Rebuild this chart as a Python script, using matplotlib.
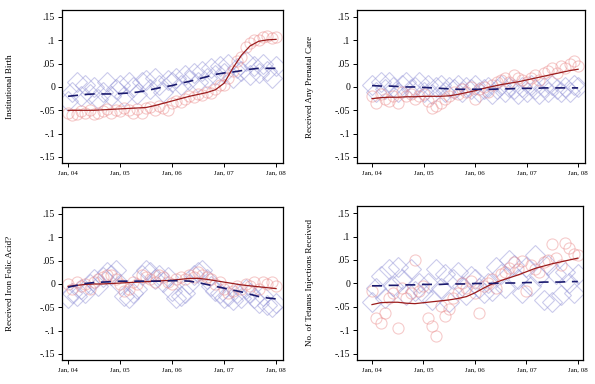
import numpy as np
import matplotlib
matplotlib.use("Agg")
import matplotlib.pyplot as plt

# monthly points, Jan 04 (0) .. Jan 08 (48)
months = np.arange(49)
line_months = np.arange(0, 49, 2)

tick_pos = [0, 12, 24, 36, 48]
tick_labels = ["Jan, 04", "Jan, 05", "Jan, 06", "Jan, 07", "Jan, 08"]
ytick_pos = [0.15, 0.1, 0.05, 0, -0.05, -0.1, -0.15]
ytick_labels = [".15", ".1", ".05", "0", "-.05", "-.1", "-.15"]

titles = ["Institutional Birth", "Received Any Prenatal Care",
          "Received Iron Folic Acid?", "No. of Tetanus Injections Received"]

# Institutional Birth
birth_circ = [-0.055, -0.06, -0.058, -0.052, -0.055, -0.05, -0.058, -0.055, -0.052, -0.048, -0.055, -0.05,
              -0.052, -0.045, -0.05, -0.055, -0.048, -0.055, -0.045, -0.042, -0.05, -0.04, -0.045, -0.05,
              -0.035, -0.03, -0.032, -0.025, -0.02, -0.022, -0.015, -0.018, -0.01, -0.012, -0.005, 0.005,
              0.005, 0.02, 0.035, 0.055, 0.065, 0.085, 0.095, 0.1, 0.1, 0.108, 0.11, 0.105, 0.108]
birth_diam = [-0.03, -0.01, 0.01, -0.02, 0.005, -0.015, 0.0, -0.025, -0.01, 0.01, -0.02, -0.005,
              0.005, -0.02, 0.01, 0.0, -0.015, 0.01, 0.015, -0.005, 0.02, 0.005, -0.01, 0.015,
              0.01, 0.02, 0.005, 0.025, 0.015, 0.03, 0.01, 0.035, 0.02, 0.04, 0.025, 0.045,
              0.03, 0.05, 0.02, 0.04, 0.035, 0.055, 0.025, 0.045, 0.03, 0.05, 0.035, 0.02, 0.045]
birth_red = [-0.050, -0.050, -0.050, -0.050, -0.049, -0.048, -0.047, -0.046, -0.045, -0.044, -0.040, -0.035,
             -0.030, -0.025, -0.020, -0.016, -0.012, -0.006, 0.008, 0.040, 0.068, 0.088, 0.098, 0.101, 0.102]
birth_blue = [-0.020, -0.018, -0.016, -0.015, -0.015, -0.015, -0.014, -0.013, -0.011, -0.008, -0.004, 0.0,
              0.003, 0.008, 0.012, 0.017, 0.022, 0.027, 0.030, 0.032, 0.035, 0.038, 0.040, 0.040, 0.040]

# Received Any Prenatal Care
prenatal_circ = [-0.02, -0.035, -0.015, -0.025, -0.03, -0.02, -0.035, -0.01, -0.02, -0.015, -0.025, -0.02,
                 -0.015, -0.03, -0.045, -0.04, -0.035, -0.025, -0.02, -0.01, -0.015, -0.005, -0.01, 0.0,
                 -0.025, -0.005, 0.0, -0.01, 0.005, 0.01, 0.015, 0.02, 0.01, 0.025, 0.02, 0.015,
                 0.01, 0.02, 0.025, 0.015, 0.03, 0.035, 0.04, 0.03, 0.045, 0.04, 0.05, 0.055, 0.045]
prenatal_diam = [0.005, -0.01, 0.01, -0.005, 0.01, 0.0, -0.01, 0.005, 0.01, -0.005, 0.0, 0.01,
                 -0.01, 0.005, -0.015, 0.0, 0.005, -0.01, 0.0, -0.005, 0.005, -0.01, 0.0, -0.005,
                 0.005, -0.01, -0.005, 0.0, -0.015, -0.005, 0.005, -0.01, 0.0, -0.005, -0.015, 0.0,
                 -0.01, 0.005, -0.005, -0.015, 0.0, -0.01, 0.005, -0.005, -0.01, 0.0, -0.01, 0.005, 0.0]
prenatal_red = [-0.025, -0.023, -0.022, -0.022, -0.021, -0.021, -0.020, -0.020, -0.020, -0.019, -0.016, -0.012,
                -0.008, -0.003, 0.001, 0.005, 0.008, 0.011, 0.015, 0.019, 0.023, 0.027, 0.031, 0.035, 0.038]
prenatal_blue = [0.003, 0.002, 0.002, 0.001, 0.0, 0.0, -0.001, -0.002, -0.003, -0.004, -0.005, -0.005,
                 -0.005, -0.005, -0.005, -0.004, -0.004, -0.003, -0.003, -0.003, -0.002, -0.002, -0.002, -0.002, -0.002]

# Received Iron Folic Acid?
iron_circ = [0.0, -0.01, 0.005, -0.005, 0.0, -0.01, 0.005, 0.01, 0.015, 0.02, 0.02, 0.01,
             0.0, -0.015, -0.01, 0.005, 0.0, 0.02, 0.015, 0.01, 0.005, 0.02, 0.015, 0.005,
             0.0, 0.01, 0.015, 0.01, 0.02, 0.015, 0.025, 0.02, 0.015, 0.01, 0.0, 0.005,
             -0.01, -0.02, -0.015, -0.005, -0.01, 0.0, -0.005, 0.005, -0.01, 0.005, 0.0, 0.005, -0.005]
iron_diam = [-0.03, -0.02, -0.025, -0.01, -0.02, 0.0, 0.01, -0.005, 0.015, 0.025, 0.02, 0.03,
             0.0, -0.025, -0.03, -0.02, -0.01, 0.02, 0.03, 0.025, 0.01, 0.02, 0.005, 0.015,
             -0.015, -0.03, -0.025, -0.02, 0.0, 0.02, 0.025, 0.03, 0.01, -0.005, -0.015, -0.02,
             -0.03, -0.025, -0.035, -0.02, -0.03, -0.01, -0.02, -0.03, -0.04, -0.025, -0.045, -0.05, -0.04]
iron_red = [-0.005, -0.003, -0.001, 0.0, 0.0, 0.001, 0.002, 0.003, 0.004, 0.005, 0.006, 0.007,
            0.008, 0.010, 0.012, 0.012, 0.010, 0.007, 0.004, 0.001, -0.002, -0.004, -0.006, -0.008, -0.010]
iron_blue = [-0.007, -0.003, 0.001, 0.003, 0.004, 0.005, 0.006, 0.006, 0.006, 0.006, 0.006, 0.006,
             0.007, 0.007, 0.006, 0.003, -0.001, -0.005, -0.009, -0.013, -0.017, -0.022, -0.027, -0.030, -0.032]

# No. of Tetanus Injections Received
tetanus_circ = [-0.016, -0.074, -0.085, -0.063, -0.03, -0.02, -0.095, -0.01, -0.03, -0.02, 0.05, -0.015,
                -0.005, -0.074, -0.091, -0.111, -0.049, -0.07, -0.054, -0.03, -0.02, 0.0, -0.01, 0.005,
                -0.02, -0.063, -0.005, 0.0, 0.01, -0.01, 0.02, 0.025, 0.034, 0.045, 0.03, 0.048,
                -0.016, 0.04, 0.03, 0.025, 0.045, 0.05, 0.084, 0.055, 0.04, 0.087, 0.076, 0.062, 0.06]
tetanus_diam = [-0.04, -0.01, 0.015, -0.03, 0.03, -0.005, 0.035, 0.01, -0.025, 0.03, -0.015, 0.0,
                -0.02, 0.0, -0.035, 0.03, -0.01, 0.02, -0.04, 0.01, 0.025, -0.005, -0.025, 0.015,
                0.01, -0.01, -0.02, 0.0, -0.015, 0.035, 0.02, -0.01, 0.05, 0.04, 0.01, -0.02,
                0.035, -0.005, 0.06, 0.015, -0.035, 0.04, -0.04, 0.02, -0.025, 0.025, 0.0, -0.02, 0.02]
tetanus_red = [-0.045, -0.041, -0.040, -0.040, -0.042, -0.043, -0.041, -0.039, -0.037, -0.035, -0.032, -0.028,
               -0.020, -0.010, -0.001, 0.006, 0.012, 0.018, 0.025, 0.032, 0.037, 0.042, 0.046, 0.050, 0.054]
tetanus_blue = [-0.005, -0.005, -0.004, -0.004, -0.003, -0.003, -0.002, -0.002, -0.002, -0.001, -0.001, -0.001,
                0.0, 0.0, 0.0, 0.001, 0.001, 0.001, 0.002, 0.002, 0.003, 0.003, 0.003, 0.004, 0.004]

panels = [
    (birth_circ, birth_diam, birth_red, birth_blue),
    (prenatal_circ, prenatal_diam, prenatal_red, prenatal_blue),
    (iron_circ, iron_diam, iron_red, iron_blue),
    (tetanus_circ, tetanus_diam, tetanus_red, tetanus_blue),
]

# axes boxes in pixels: left, top, right, bottom ; label x ; xlim
W, H = 595, 384
boxes = [
    (62, 10, 283, 163, 10, (-1.4, 49.6)),
    (357, 10, 585, 163, 310, (-3.5, 49.6)),
    (62, 207, 283, 360, 10, (-1.4, 49.6)),
    (357, 206, 583, 360, 310, (-3.5, 49.2)),
]

plt.rcParams['font.family'] = ['Liberation Serif', 'DejaVu Serif']

fig = plt.figure(figsize=(W / 100, H / 100), dpi=100)
fig.patch.set_facecolor('white')

for (circ, diam, red, blue), title, (l, t, r, b, lx, xlim) in zip(panels, titles, boxes):
    ax = fig.add_axes([l / W, 1 - b / H, (r - l) / W, (b - t) / H])
    ax.plot(months, diam, linestyle='none', marker='D', ms=10, mfc='none',
            mec=(0.6, 0.6, 0.85), mew=0.8, alpha=0.5)
    ax.plot(months, circ, linestyle='none', marker='o', ms=8, mfc='none',
            mec=(0.92, 0.55, 0.55), mew=0.8, alpha=0.45)
    ax.plot(line_months, red, color='#9a1c1c', lw=0.9)
    ax.plot(line_months, blue, color='#1a1a6e', lw=1.2, dashes=(6, 4))
    ax.set_xlim(*xlim)
    ax.set_ylim(-0.163, 0.165)
    ax.set_xticks(tick_pos)
    ax.set_xticklabels(tick_labels, fontsize=5)
    ax.set_yticks(ytick_pos)
    ax.set_yticklabels(ytick_labels, fontsize=7)
    ax.tick_params(direction='out', length=3, width=0.7, pad=2)
    for s in ax.spines.values():
        s.set_linewidth(0.9)
    cy = 1 - (t + b) / 2 / H
    fig.text(lx / W, cy, title, rotation=90, ha='center', va='center', fontsize=6.5)

fig.savefig("out.png", dpi=100)
